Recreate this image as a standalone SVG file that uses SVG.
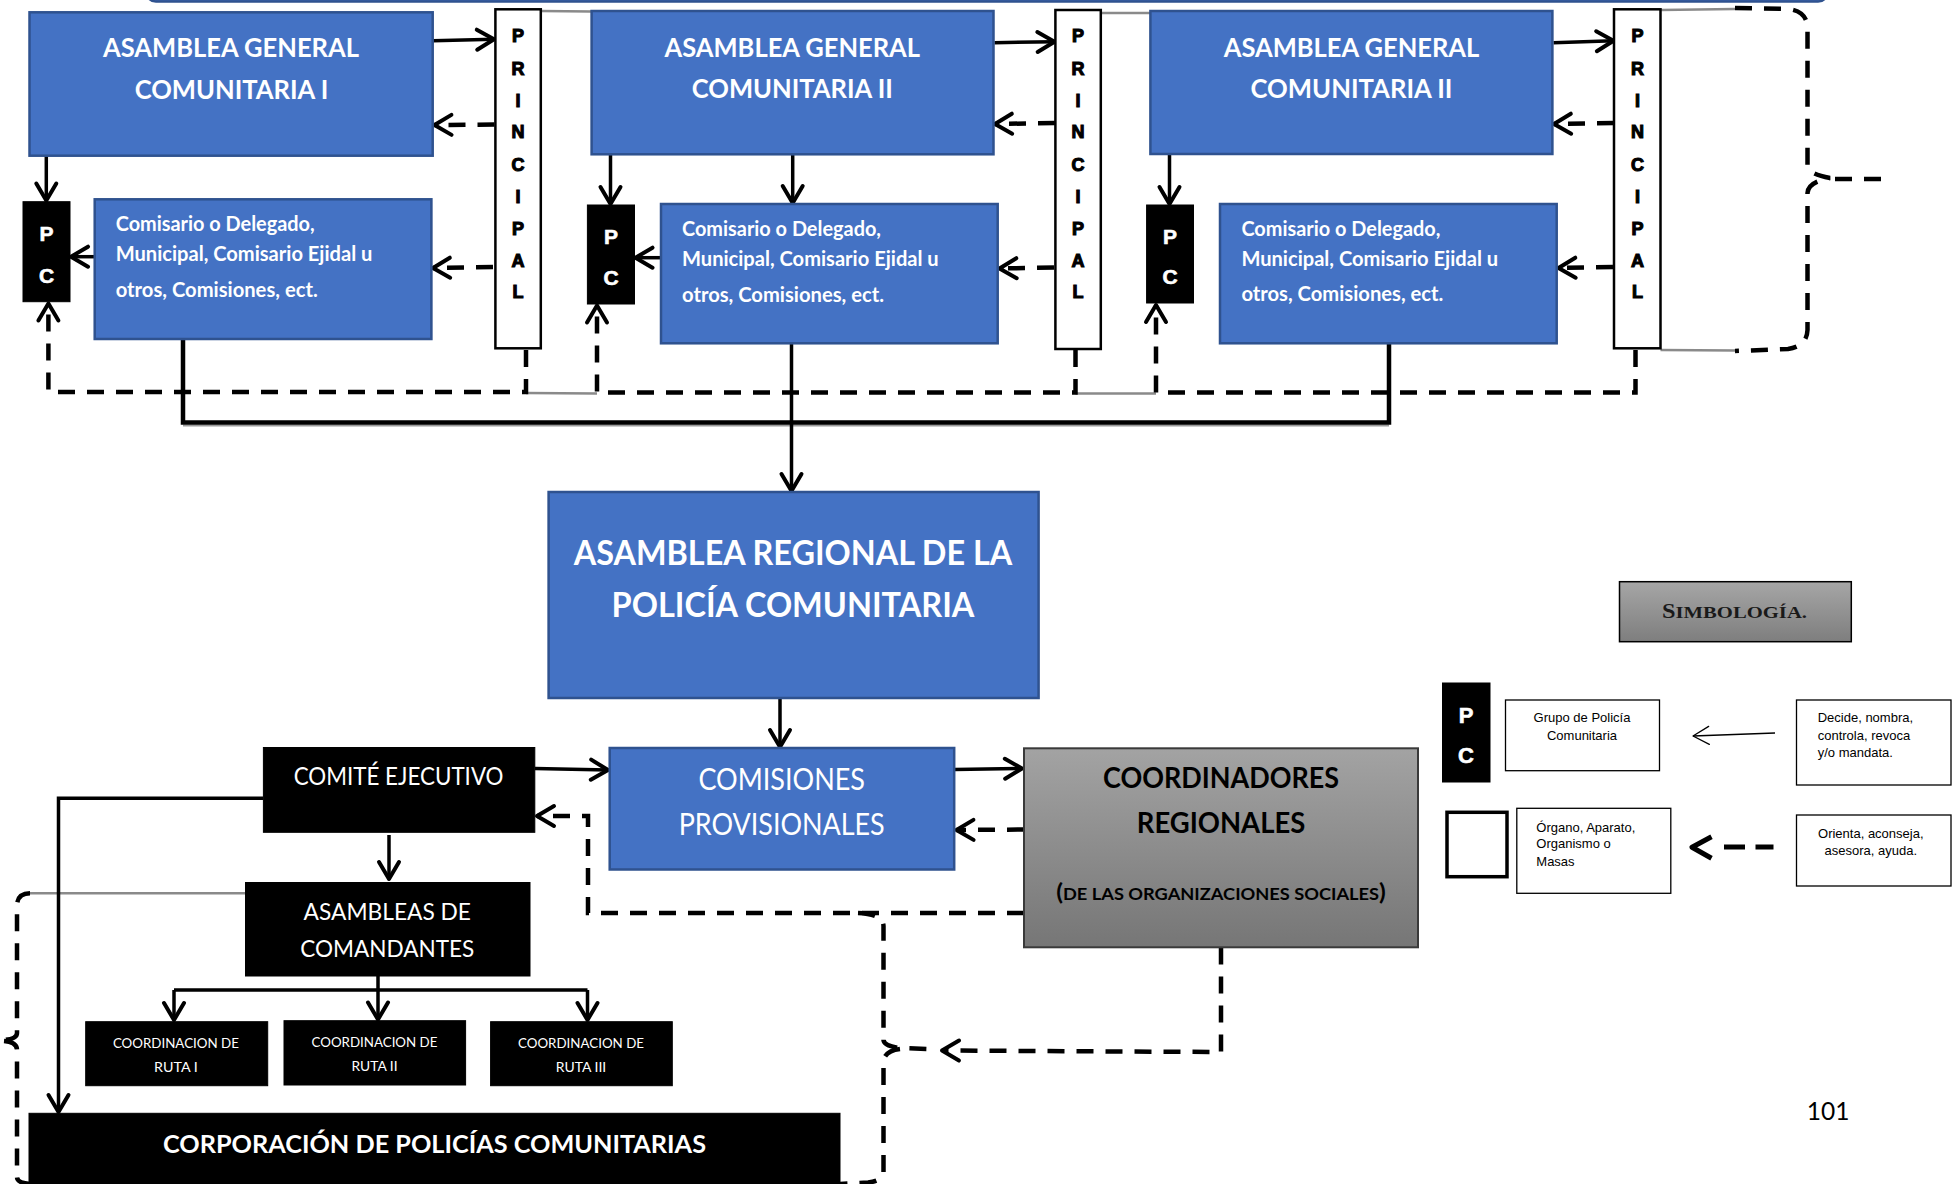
<svg xmlns="http://www.w3.org/2000/svg" width="1955" height="1184" viewBox="0 0 1955 1184">
<style>
.blue{fill:#4472C4;stroke:#2F528F;stroke-width:2.5}
.blk{fill:#000;stroke:#000;stroke-width:1}
.pbox{fill:#fff;stroke:#000;stroke-width:2.5}
.wb{fill:#fff;font-family:Lato,'Open Sans',sans-serif;font-weight:bold}
.wr{fill:#fff;font-family:Lato,'Open Sans',sans-serif;font-weight:normal}
.kb{fill:#000;font-family:Lato,'Open Sans',sans-serif;font-weight:bold}
.pl{fill:#000;stroke:#000;stroke-width:1.1;font-family:'Liberation Sans',Arial,sans-serif;font-weight:bold;font-size:18px;text-anchor:middle}
.pcl{fill:#fff;stroke:#fff;stroke-width:0.6;font-family:'Liberation Sans',Arial,sans-serif;font-weight:bold;font-size:21px;text-anchor:middle}
.mid{text-anchor:middle}
.sol{fill:none;stroke:#000;stroke-width:3.5;marker-end:url(#ah)}
.solp{fill:none;stroke:#000;stroke-width:3.5}
.bus{fill:none;stroke:#000;stroke-width:4.5}
.dsh{fill:none;stroke:#000;stroke-width:4.5;stroke-dasharray:17 12}
.dsha{fill:none;stroke:#000;stroke-width:4.5;stroke-dasharray:17 12;marker-end:url(#ah)}
.grey{fill:none;stroke:#8a8a8a;stroke-width:2.5}
.lbox{fill:#fff;stroke:#000;stroke-width:1.3}
.lt{fill:#000;font-family:'Liberation Sans',Arial,sans-serif;font-size:13px}
</style>
<defs>
<marker id="ah" markerUnits="userSpaceOnUse" viewBox="-20 -12 24 24" markerWidth="24" markerHeight="24" refX="0" refY="0" orient="auto" overflow="visible">
<path d="M-17,-10 L0,0 L-17,10" fill="none" stroke="#000" stroke-width="4" stroke-dasharray="none" stroke-linecap="round" stroke-linejoin="round"/>
</marker>
<marker id="aht" markerUnits="userSpaceOnUse" viewBox="-20 -12 24 24" markerWidth="24" markerHeight="24" refX="0" refY="0" orient="auto" overflow="visible">
<path d="M-16,-9 L0,0 L-16,9" fill="none" stroke="#000" stroke-width="1.3" stroke-linecap="round" stroke-linejoin="round"/>
</marker>
<linearGradient id="gg" x1="0" y1="0" x2="0" y2="1">
<stop offset="0" stop-color="#a3a3a3"/>
<stop offset="1" stop-color="#767676"/>
</linearGradient>
<linearGradient id="gs" x1="0" y1="0" x2="0" y2="1">
<stop offset="0" stop-color="#a6a6a6"/>
<stop offset="1" stop-color="#7e7e7e"/>
</linearGradient>
</defs>
<rect x="0" y="0" width="1955" height="1184" fill="#fff"/>

<!-- top cut-off box edge -->
<path d="M148,-4 Q149,1 156,1.5 L1818,1.5 Q1825,1 1826,-4" fill="#4472C4" stroke="#2F528F" stroke-width="2.5"/>

<g id="connectors">
<path class="grey" d="M541,11 L591,11.5"/>
<path class="grey" d="M1101,13 L1150,13"/>
<path class="grey" d="M1660.5,10 L1735,9"/>
<path class="grey" d="M1660.5,350 L1735,350.5"/>
<path class="grey" d="M526,393 L597,393.5"/>
<path class="grey" d="M1075.5,393.5 L1156,393.5"/>
<path class="grey" d="M30,893.3 L245.5,893.3"/>
<path d="M183,425.5 L1389,425.5" fill="none" stroke="#9a9a9a" stroke-width="2"/>

<path class="sol" d="M433,40.7 L494,39.3"/>
<path class="sol" d="M994.5,42.7 L1054.5,41.7"/>
<path class="sol" d="M1553.5,42.7 L1613.5,40.7"/>
<path class="dsha" d="M494.5,124.5 L434.5,125"/>
<path class="dsha" d="M1055,123 L995,124"/>
<path class="dsha" d="M1614,123 L1554,124"/>
<path class="dsha" d="M493,267 L433,268"/>
<path class="dsha" d="M1054,267.5 L999.5,268.5"/>
<path class="dsha" d="M1613,267 L1558.5,268"/>
<path class="sol" d="M46.3,156 L46.3,200.5"/>
<path class="sol" d="M610.5,155 L610.5,204"/>
<path class="sol" d="M792.7,155 L792.7,203"/>
<path class="sol" d="M1169.5,155 L1169.5,204"/>
<path class="sol" d="M94.5,256.7 L71,256.7"/>
<path class="sol" d="M660,257.7 L635.5,257.7"/>
<path class="dsha" d="M526,350 L526,392 L48.4,392 L48.4,303.5"/>
<path class="dsha" d="M1075.5,350 L1075.5,392.5 L597,392.5 L597,305.5"/>
<path class="dsha" d="M1635.5,350 L1635.5,392.5 L1156,392.5 L1156,305"/>
<path class="dsh" d="M1735,8 L1788,9 Q1807,11 1807.5,28 L1807.5,166 Q1808,174 1830,178 Q1808,182 1807.5,193 L1807.5,330 Q1807,346 1788,349 L1735,351"/>
<path class="dsh" d="M1835,179 L1882,179" stroke-dasharray="24 10"/>
<path class="bus" d="M183,339 L183,422.5 L1389,422.5 L1389,343.5"/>
<path class="sol" d="M791.5,343.5 L791.5,491"/>
<path class="sol" d="M780,698.5 L780,747"/>
<path class="sol" d="M535,768.5 L608,770"/>
<path class="sol" d="M954.5,769.5 L1022,768.5"/>
<path class="dsha" d="M1024,829.5 L956.5,830"/>
<path class="dsha" d="M1024,913 L588,913 L588,816 L537,816"/>
<path class="dsha" d="M1221,947.5 L1221,1052 L942,1050.5"/>
<path class="dsh" d="M858,913 Q883,914 883.5,926 L883.5,1040 Q884,1046 900,1048 L930,1049"/>
<path class="dsh" d="M900,1049 Q884,1051 883.5,1062 L883.5,1172 Q883,1181 868,1182.5 L840,1184"/>
<path class="sol" d="M389,835 L389,879"/>
<path class="solp" d="M378,976 L378,990 M174,990 L587.5,990"/>
<path class="sol" d="M174,990 L174,1020"/>
<path class="sol" d="M378,990 L378,1019.5"/>
<path class="sol" d="M587.5,990 L587.5,1020"/>
<path class="sol" d="M263,798.3 L58.5,798.3 L58.5,1112"/>
<path class="dsh" d="M30,893.3 Q17,893.5 17,906 L17,1033 Q17,1039 4,1040"/>
<path class="dsh" d="M4,1041 Q17,1042 17,1050 L17,1177 Q17,1183 30,1184"/>
</g>

<g id="agc1">
<rect class="blue" x="29.5" y="12.3" width="403.2" height="143.4"/>
<text class="wb mid" x="231" y="57" font-size="26" textLength="256" lengthAdjust="spacingAndGlyphs">ASAMBLEA GENERAL</text>
<text class="wb mid" x="231.5" y="99" font-size="26" textLength="193.6" lengthAdjust="spacingAndGlyphs">COMUNITARIA I</text>
</g>
<g id="principal1">
<rect class="pbox" x="495.4" y="9.3" width="45.4" height="339"/>
<text class="pl"><tspan x="518" y="41.7">P</tspan><tspan x="518" y="75">R</tspan><tspan x="518" y="106.7">I</tspan><tspan x="518" y="138.3">N</tspan><tspan x="518" y="170.7">C</tspan><tspan x="518" y="203.3">I</tspan><tspan x="518" y="235">P</tspan><tspan x="518" y="266.7">A</tspan><tspan x="518" y="298.3">L</tspan></text>
</g>
<g id="pc1">
<rect class="blk" x="23" y="201.7" width="47" height="100"/>
<text class="pcl"><tspan x="46.5" y="241">P</tspan><tspan x="46.5" y="282.5">C</tspan></text>
</g>
<g id="comisario1">
<rect class="blue" x="94.7" y="199.3" width="336.7" height="139.7"/>
<text class="wb" x="115.7" y="231" font-size="20.5" textLength="199" lengthAdjust="spacingAndGlyphs">Comisario o Delegado,</text>
<text class="wb" x="115.7" y="261" font-size="20.5" textLength="256.7" lengthAdjust="spacingAndGlyphs">Municipal, Comisario Ejidal u</text>
<text class="wb" x="115.7" y="296.7" font-size="20.5" textLength="202" lengthAdjust="spacingAndGlyphs">otros, Comisiones, ect.</text>
</g>

<g id="agc2">
<rect class="blue" x="591.6" y="11" width="401.9" height="143.3"/>
<text class="wb mid" x="792.3" y="56.7" font-size="26" textLength="255.5" lengthAdjust="spacingAndGlyphs">ASAMBLEA GENERAL</text>
<text class="wb mid" x="792.3" y="98.3" font-size="26" textLength="201" lengthAdjust="spacingAndGlyphs">COMUNITARIA II</text>
</g>
<g id="principal2">
<rect class="pbox" x="1055.4" y="10" width="45.4" height="339"/>
<text class="pl"><tspan x="1078" y="41.7">P</tspan><tspan x="1078" y="75">R</tspan><tspan x="1078" y="106.7">I</tspan><tspan x="1078" y="138.3">N</tspan><tspan x="1078" y="170.7">C</tspan><tspan x="1078" y="203.3">I</tspan><tspan x="1078" y="235">P</tspan><tspan x="1078" y="266.7">A</tspan><tspan x="1078" y="298.3">L</tspan></text>
</g>
<g id="pc2">
<rect class="blk" x="587.4" y="205" width="47.1" height="99"/>
<text class="pcl"><tspan x="611" y="244">P</tspan><tspan x="611" y="285">C</tspan></text>
</g>
<g id="comisario2">
<rect class="blue" x="661" y="204" width="336.7" height="139.3"/>
<text class="wb" x="682" y="236" font-size="20.5" textLength="199" lengthAdjust="spacingAndGlyphs">Comisario o Delegado,</text>
<text class="wb" x="682" y="266" font-size="20.5" textLength="256.7" lengthAdjust="spacingAndGlyphs">Municipal, Comisario Ejidal u</text>
<text class="wb" x="682" y="301.7" font-size="20.5" textLength="202" lengthAdjust="spacingAndGlyphs">otros, Comisiones, ect.</text>
</g>

<g id="agc3">
<rect class="blue" x="1150.4" y="11" width="402" height="143"/>
<text class="wb mid" x="1351.5" y="56.7" font-size="26" textLength="255.6" lengthAdjust="spacingAndGlyphs">ASAMBLEA GENERAL</text>
<text class="wb mid" x="1351.5" y="98.3" font-size="26" textLength="202" lengthAdjust="spacingAndGlyphs">COMUNITARIA II</text>
</g>
<g id="principal3">
<rect class="pbox" x="1614" y="9.3" width="46.5" height="339"/>
<text class="pl"><tspan x="1637.5" y="41.7">P</tspan><tspan x="1637.5" y="75">R</tspan><tspan x="1637.5" y="106.7">I</tspan><tspan x="1637.5" y="138.3">N</tspan><tspan x="1637.5" y="170.7">C</tspan><tspan x="1637.5" y="203.3">I</tspan><tspan x="1637.5" y="235">P</tspan><tspan x="1637.5" y="266.7">A</tspan><tspan x="1637.5" y="298.3">L</tspan></text>
</g>
<g id="pc3">
<rect class="blk" x="1146.6" y="205" width="46.9" height="98"/>
<text class="pcl"><tspan x="1170" y="244">P</tspan><tspan x="1170" y="284">C</tspan></text>
</g>
<g id="comisario3">
<rect class="blue" x="1220" y="204" width="336.7" height="139.3"/>
<text class="wb" x="1241.4" y="236" font-size="20.5" textLength="199" lengthAdjust="spacingAndGlyphs">Comisario o Delegado,</text>
<text class="wb" x="1241.4" y="266" font-size="20.5" textLength="256.7" lengthAdjust="spacingAndGlyphs">Municipal, Comisario Ejidal u</text>
<text class="wb" x="1241.4" y="301" font-size="20.5" textLength="202" lengthAdjust="spacingAndGlyphs">otros, Comisiones, ect.</text>
</g>

<g id="asamblea-regional">
<rect class="blue" x="548.6" y="492" width="490" height="206"/>
<text class="wb mid" x="793" y="565" font-size="34.5" textLength="438.6" lengthAdjust="spacingAndGlyphs">ASAMBLEA REGIONAL DE LA</text>
<text class="wb mid" x="793" y="617.3" font-size="34.5" textLength="362.8" lengthAdjust="spacingAndGlyphs">POLICÍA COMUNITARIA</text>
</g>
<g id="comisiones-provisionales">
<rect class="blue" x="609.7" y="748" width="344.5" height="121.5"/>
<text class="wr mid" x="781.7" y="790" font-size="30" textLength="166.6" lengthAdjust="spacingAndGlyphs">COMISIONES</text>
<text class="wr mid" x="781.7" y="835" font-size="30" textLength="206" lengthAdjust="spacingAndGlyphs">PROVISIONALES</text>
</g>
<g id="coordinadores-regionales">
<rect x="1024" y="748.3" width="394" height="199" fill="url(#gg)" stroke="#3a3a3a" stroke-width="2"/>
<text class="kb mid" x="1221" y="788.3" font-size="28.5" textLength="236" lengthAdjust="spacingAndGlyphs">COORDINADORES</text>
<text class="kb mid" x="1221" y="833.3" font-size="28.5" textLength="168.4" lengthAdjust="spacingAndGlyphs">REGIONALES</text>
<text class="kb mid" x="1221" y="900" font-size="17" textLength="329.6" lengthAdjust="spacingAndGlyphs"><tspan font-size="23">(</tspan>DE LAS ORGANIZACIONES SOCIALES<tspan font-size="23">)</tspan></text>
</g>
<g id="comite-ejecutivo">
<rect class="blk" x="263.4" y="747.5" width="271.4" height="84.8"/>
<text class="wr mid" x="398.6" y="785" font-size="24.5" textLength="209.8" lengthAdjust="spacingAndGlyphs">COMITÉ EJECUTIVO</text>
</g>
<g id="asambleas-comandantes">
<rect class="blk" x="245.5" y="882.5" width="284.5" height="93.5"/>
<text class="wr mid" x="387.3" y="920" font-size="23.5" textLength="167.4" lengthAdjust="spacingAndGlyphs">ASAMBLEAS DE</text>
<text class="wr mid" x="387.3" y="956.7" font-size="23.5" textLength="174" lengthAdjust="spacingAndGlyphs">COMANDANTES</text>
</g>
<g id="ruta1">
<rect class="blk" x="85.7" y="1021.7" width="182" height="64"/>
<text class="wr mid" x="175.9" y="1048.3" font-size="14" textLength="126" lengthAdjust="spacingAndGlyphs">COORDINACION DE</text>
<text class="wr mid" x="175.9" y="1071.7" font-size="14" textLength="43.7" lengthAdjust="spacingAndGlyphs">RUTA I</text>
</g>
<g id="ruta2">
<rect class="blk" x="284" y="1020.7" width="181.6" height="64.3"/>
<text class="wr mid" x="374.5" y="1047.3" font-size="14" textLength="125.9" lengthAdjust="spacingAndGlyphs">COORDINACION DE</text>
<text class="wr mid" x="374.5" y="1070.7" font-size="14" textLength="46" lengthAdjust="spacingAndGlyphs">RUTA II</text>
</g>
<g id="ruta3">
<rect class="blk" x="490.6" y="1021.7" width="181.7" height="64"/>
<text class="wr mid" x="581" y="1048.3" font-size="14" textLength="126" lengthAdjust="spacingAndGlyphs">COORDINACION DE</text>
<text class="wr mid" x="581" y="1071.7" font-size="14" textLength="50.4" lengthAdjust="spacingAndGlyphs">RUTA III</text>
</g>
<g id="corporacion">
<rect class="blk" x="29" y="1113.3" width="811" height="80"/>
<text class="wb mid" x="434.5" y="1153.3" font-size="25" textLength="543" lengthAdjust="spacingAndGlyphs">CORPORACIÓN DE POLICÍAS COMUNITARIAS</text>
</g>

<g id="simbologia">
<rect x="1619.5" y="581.7" width="231.8" height="60" fill="url(#gs)" stroke="#000" stroke-width="1.5"/>
<text x="1734.5" y="618" text-anchor="middle" font-family="'Liberation Serif','Times New Roman',serif" font-weight="bold" fill="#1a1a1a" textLength="145" lengthAdjust="spacingAndGlyphs"><tspan font-size="20">S</tspan><tspan font-size="17">IMBOLOGÍA.</tspan></text>
</g>
<g id="legend-pc">
<rect class="blk" x="1442.5" y="683" width="47.5" height="99"/>
<text x="1466" y="722.7" fill="#fff" stroke="#fff" stroke-width="0.6" font-family="'Liberation Sans',Arial,sans-serif" font-weight="bold" font-size="22" text-anchor="middle">P</text>
<text x="1466" y="763.3" fill="#fff" stroke="#fff" stroke-width="0.6" font-family="'Liberation Sans',Arial,sans-serif" font-weight="bold" font-size="22" text-anchor="middle">C</text>
</g>
<g id="legend-grupo">
<rect class="lbox" x="1505.5" y="700" width="154" height="70.7"/>
<text class="lt mid" x="1582" y="722.3">Grupo de Policía</text>
<text class="lt mid" x="1582" y="740">Comunitaria</text>
</g>
<g id="legend-solid-arrow">
<path d="M1775,733 L1693,736" fill="none" stroke="#000" stroke-width="1.3" marker-end="url(#aht)"/>
</g>
<g id="legend-decide">
<rect class="lbox" x="1796.5" y="700" width="154.5" height="85"/>
<text class="lt" x="1817.7" y="722.3">Decide, nombra,</text>
<text class="lt" x="1817.7" y="740">controla, revoca</text>
<text class="lt" x="1817.7" y="756.7">y/o mandata.</text>
</g>
<g id="legend-square">
<rect x="1447" y="812.3" width="60" height="64.4" fill="#fff" stroke="#000" stroke-width="3.5"/>
</g>
<g id="legend-organo">
<rect class="lbox" x="1516.8" y="808.3" width="154" height="85"/>
<text class="lt" x="1536.3" y="831.7">Órgano, Aparato,</text>
<text class="lt" x="1536.3" y="848.3">Organismo o</text>
<text class="lt" x="1536.3" y="865.7">Masas</text>
</g>
<g id="legend-dashed-arrow">
<path d="M1773.5,847 L1755.5,847 M1745,847 L1724,847 M1711.5,836.7 L1692,847.3 L1711.5,858.3" fill="none" stroke="#000" stroke-width="5" stroke-linejoin="round"/>
</g>
<g id="legend-orienta">
<rect class="lbox" x="1796.5" y="815" width="154.5" height="71"/>
<text class="lt mid" x="1870.8" y="838.3">Orienta, aconseja,</text>
<text class="lt mid" x="1870.8" y="855">asesora, ayuda.</text>
</g>
<g id="page-number">
<text x="1806.7" y="1120" font-family="Lato,'Open Sans',sans-serif" font-size="25" fill="#000" textLength="42.7" lengthAdjust="spacingAndGlyphs">101</text>
</g>
</svg>
